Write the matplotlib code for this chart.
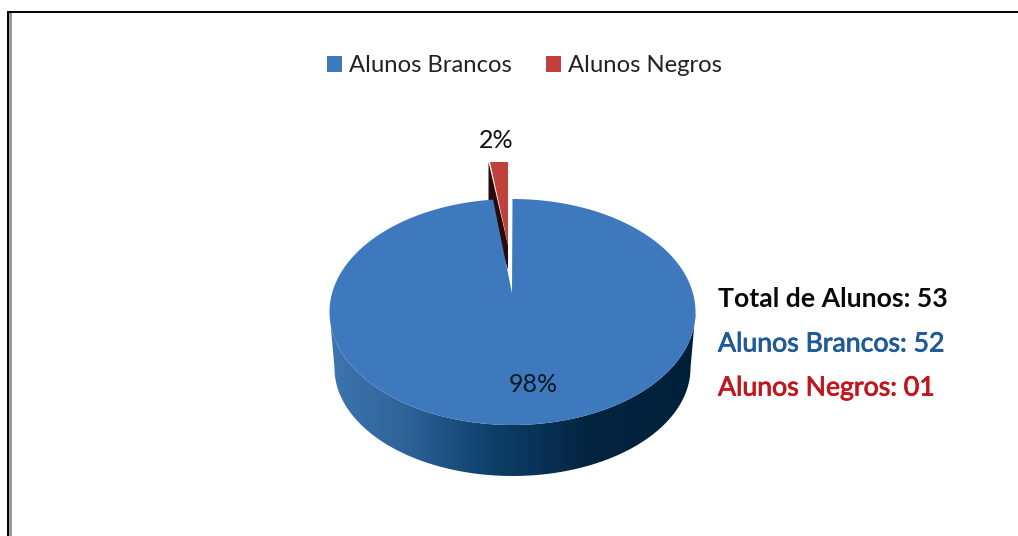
#!/usr/bin/env python

#Imports
import numpy as np
import matplotlib
matplotlib.use('Agg')
import matplotlib.pyplot as plt
import matplotlib.patheffects as pe
from matplotlib.colors import LinearSegmentedColormap
from matplotlib.patches import Patch, Polygon

#Data
categories = ['Alunos Brancos', 'Alunos Negros']
percent_labels = ['98%', '2%']
counts = [52, 1]
side_notes = ['Total de Alunos: 53', 'Alunos Brancos: 52', 'Alunos Negros: 01']
note_colors = ['#0a0a0a', '#1f5b96', '#c0161c']
slice_colors = ['#3d79bc', '#c0403c']

plt.rcParams['font.family'] = ['Lato', 'DejaVu Sans']

fig = plt.figure(figsize=(10.18, 5.36), dpi=100)
ax = fig.add_axes([0, 0, 1, 1])
ax.set_xlim(0, 1018)
ax.set_ylim(536, 0)
ax.axis('off')

#Frame
ax.fill_between([9, 12], 13, 536, color='#9a9a9a', lw=0)
ax.fill_between([7, 9], 11, 536, color='#050505', lw=0)
ax.fill_between([7, 1018], 11, 13, color='#050505', lw=0)

#Pie geometry, pixels
cx, cy, rx, ry = 512.5, 312, 183, 113
low_cy, low_rx, low_ry = 368, 178, 108
apex = (512, 293)
total = sum(counts)
# the 3D view squeezes the small slice a bit
sweep = 2*np.pi*counts[1]/total*0.9

def arc(c_x, c_y, r_x, r_y, t0, t1):
    t = np.linspace(t0, t1, 300)
    return np.column_stack([c_x + r_x*np.sin(t), c_y - r_y*np.cos(t)])

#Side wall with gradient
top_edge = arc(cx, cy, rx, ry, np.pi/2, 3*np.pi/2)
low_edge = arc(cx, low_cy, low_rx, low_ry, 3*np.pi/2, np.pi/2)
wall = Polygon(np.vstack([top_edge, low_edge]), closed=True, fc='none', ec='none')
ax.add_patch(wall)
cmap = LinearSegmentedColormap.from_list('wall', [
    (0.0, '#3d75b0'), (0.2, '#2f6499'), (0.45, '#0d3e69'),
    (0.72, '#03233f'), (1.0, '#00203a')])
grad = np.linspace(0, 1, 400).reshape(1, -1)
im = ax.imshow(grad, extent=[330, 696, 480, 300], cmap=cmap, aspect='auto', zorder=1)
im.set_clip_path(wall)
ax.set_xlim(0, 1018)
ax.set_ylim(536, 0)

#Exploded small slice
red_x = 508
red_top = 162
red_w = rx*np.sin(sweep)
ax.add_patch(Polygon([(red_x - red_w, red_top), (red_x - red_w, 205), (red_x, 270), (red_x, 245)],
                     closed=True, fc='#2a0b0b', ec='none', zorder=2))
ax.add_patch(Polygon([(red_x - red_w + 1, red_top), (red_x, red_top), (red_x, 245)],
                     closed=True, fc=slice_colors[1], ec='none', zorder=3))

#Large slice top
big_arc = arc(cx, cy, rx, ry, 0, 2*np.pi - sweep)
ax.add_patch(Polygon(np.vstack([[apex], big_arc]), closed=True,
                     fc=slice_colors[0], ec='none', zorder=4))

#Slice labels
ax.text(533.5, 384, percent_labels[0], fontsize=18, color='#0d1a26', ha='center', va='center', zorder=5)
ax.text(496, 140, percent_labels[1], fontsize=18, color='#111111', ha='center', va='center', zorder=5)

#Legend
handles = [Patch(fc=c, ec='none') for c in slice_colors]
ax.legend(handles, categories, loc='center', bbox_to_anchor=(524.5/1018, 1 - 66/536),
          bbox_transform=ax.transAxes, ncol=2, frameon=False, fontsize=17.2,
          handlelength=0.62, handleheight=0.65, handletextpad=0.29, columnspacing=1.44,
          labelcolor='#222222', borderpad=0, borderaxespad=0)

#Side notes
weights = ['bold', 'normal', 'normal']
for note, col, wt, y in zip(side_notes, note_colors, weights, [299, 344, 388]):
    t = ax.text(718, y, note, fontsize=19.2, fontweight=wt, color=col, ha='left', va='center')
    if wt == 'normal':
        # semi-bold look
        t.set_path_effects([pe.withStroke(linewidth=0.6, foreground=col)])

fig.savefig('out.png', dpi=100)
